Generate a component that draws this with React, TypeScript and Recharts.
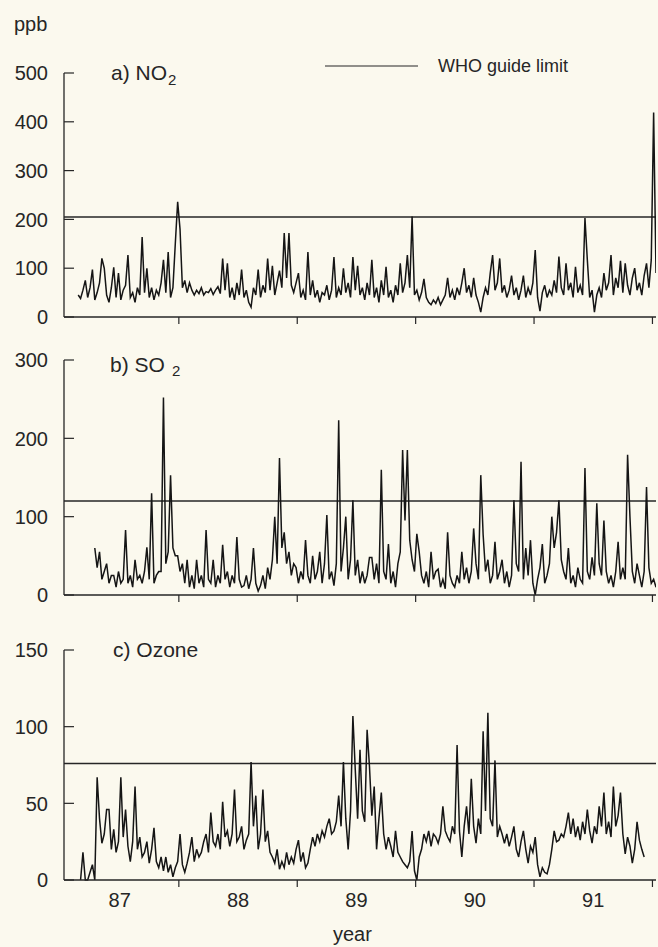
import { LineChart, Line, XAxis, YAxis, ReferenceLine } from 'recharts'

// daily-ish samples, one value every 0.02 year starting mid 1986
const START_YEAR = 86.65
const STEP = 0.02

const NO2_PPB = [
  45, 38, 55, 75, 40, 60, 97, 35, 50, 70,
  120, 100, 45, 30, 60, 102, 40, 90, 35, 55,
  65, 127, 40, 50, 30, 60, 45, 164, 50, 100,
  40, 60, 35, 55, 45, 70, 117, 50, 133, 40,
  60, 150, 236, 180, 60, 75, 50, 70, 55, 45,
  55, 48, 60, 45, 52, 50, 58, 46, 55, 62,
  48, 120, 55, 110, 40, 60, 35, 70, 45, 97,
  40, 55, 30, 20, 60, 45, 97, 40, 65, 50,
  120, 55, 105, 45, 70, 95, 60, 172, 80, 172,
  65, 50, 70, 90, 40, 55, 35, 133, 45, 75,
  40, 55, 30, 50, 45, 65, 35, 55, 123, 40,
  60, 45, 100, 50, 70, 40, 123, 55, 105, 45,
  60, 35, 70, 45, 117, 40, 60, 30, 75, 45,
  103, 40, 55, 30, 65, 45, 110, 50, 70, 127,
  60, 206, 45, 55, 35, 50, 78, 40, 30, 25,
  35, 28, 40, 25, 35, 45, 80, 40, 55, 35,
  60, 45, 70, 100, 50, 65, 40, 80, 45, 30,
  10, 40, 60, 45, 90, 127, 55, 70, 120, 50,
  65, 40, 55, 85, 45, 60, 35, 55, 85, 40,
  60, 45, 70, 137, 40, 12, 50, 65, 40, 55,
  45, 75, 50, 124, 60, 45, 110, 55, 70, 40,
  103, 50, 65, 45, 203, 117, 40, 55, 10, 45,
  60, 40, 90, 55, 70, 127, 45, 80, 60, 115,
  50, 110, 65, 45, 80, 100, 55, 70, 45, 85,
  110, 60, 117, 419, 90,
]

const SO2_PPB = [
  null, null, null, null, null, null, null, 60, 35, 55,
  20, 30, 40, 15, 25, 25, 10, 30, 15, 20,
  83, 15, 25, 10, 45, 20, 25, 15, 30, 61,
  20, 130, 15, 25, 30, 30, 252, 40, 55, 153,
  60, 50, 50, 30, 40, 15, 45, 10, 25, 8,
  45, 15, 25, 10, 83, 20, 15, 45, 10, 25,
  15, 64, 20, 30, 10, 25, 15, 74, 20, 10,
  12, 25, 8, 20, 60, 15, 5, 12, 25, 8,
  35, 20, 45, 100, 40, 175, 60, 80, 40, 55,
  25, 40, 35, 15, 30, 20, 70, 25, 15, 50,
  20, 30, 55, 15, 40, 102, 20, 30, 12, 40,
  223, 30, 60, 100, 20, 45, 121, 25, 45, 15,
  30, 15, 25, 48, 48, 20, 40, 15, 160, 30,
  20, 65, 15, 30, 10, 40, 55, 185, 95, 185,
  70, 45, 30, 78, 55, 25, 15, 30, 10, 55,
  20, 30, 33, 10, 20, 8, 80, 25, 15, 10,
  25, 15, 55, 20, 35, 15, 30, 85, 40, 20,
  153, 77, 30, 45, 15, 25, 68, 20, 30, 45,
  15, 30, 10, 25, 121, 40, 30, 170, 20, 60,
  25, 70, 15, 0, 20, 35, 65, 15, 25, 40,
  100, 60, 80, 121, 45, 30, 20, 60, 15, 25,
  10, 35, 20, 15, 162, 30, 20, 48, 25, 117,
  40, 25, 95, 30, 15, 25, 10, 30, 68, 20,
  35, 20, 179, 100, 30, 15, 40, 25, 10, 30,
  138, 35, 15, 20, 10,
]

const OZONE_PPB = [
  null, 0, 18, 0, 0, 5, 10, 0, 67, 40,
  24, 30, 46, 46, 20, 33, 18, 25, 67, 28,
  46, 22, 12, 25, 61, 20, 28, 15, 18, 25,
  11, 20, 34, 12, 8, 15, 6, 15, 5, 10,
  2, 8, 12, 30, 10, 5, 11, 18, 28, 12,
  20, 15, 18, 25, 30, 18, 44, 25, 22, 30,
  20, 51, 28, 32, 22, 30, 59, 25, 28, 35,
  20, 26, 30, 77, 35, 55, 20, 30, 59, 25,
  32, 18, 15, 11, 20, 7, 12, 8, 18, 10,
  15, 11, 20, 26, 12, 18, 8, 11, 20, 28,
  22, 30, 25, 32, 28, 35, 40, 30, 32, 38,
  55, 35, 77, 40, 20, 45, 107, 72, 40, 85,
  45, 38, 98, 74, 42, 61, 20, 40, 57, 30,
  20, 28, 22, 15, 32, 18, 15, 12, 10, 8,
  12, 32, 6, 0, 15, 20, 30, 25, 32, 22,
  30, 28, 24, 30, 48, 32, 28, 25, 35, 30,
  88, 32, 15, 35, 48, 30, 66, 35, 24, 40,
  30, 97, 45, 109, 40, 35, 78, 28, 35, 30,
  24, 30, 22, 28, 35, 20, 15, 25, 32, 20,
  11, 22, 18, 28, 10, 2, 8, 5, 4, 10,
  20, 32, 25, 26, 30, 28, 35, 44, 30, 40,
  28, 35, 26, 38, 30, 46, 32, 24, 35, 30,
  48, 35, 57, 30, 38, 28, 61, 35, 42, 57,
  30, 17, 28, 22, 11, 20, 38, 26, 20, 15,
  null, null, null, null, null,
]

const YEAR_LABELS = [87, 88, 89, 90, 91]
const YEAR_MARKS = [87.5, 88.5, 89.5, 90.5, 91.5]
const NO2_TICKS = [0, 100, 200, 300, 400, 500]
const SO2_TICKS = [0, 100, 200, 300]
const OZONE_TICKS = [0, 50, 100, 150]

const WHO_NO2 = 205
const WHO_SO2 = 120
const WHO_OZONE = 76

const INK = '#262626'
const PAPER = '#fbf9ee'
const FONT = '"Liberation Sans", Arial, Helvetica, sans-serif'

const toRows = (vals: (number | null)[]) =>
  vals.map((v, i) => ({ year: +(START_YEAR + i * STEP).toFixed(3), v }))

function PpbTick(props: any) {
  const { x, y, payload } = props
  return (
    <g>
      <line x1={x} y1={y} x2={x + 10} y2={y} stroke={INK} strokeWidth={1.2} />
      <text x={x - 16} y={y} dy="0.36em" textAnchor="end" fontSize={20} fill={INK} fontFamily={FONT}>
        {payload.value}
      </text>
    </g>
  )
}

function YearTick(props: any) {
  const { x, y, payload, showLabel } = props
  if (Number.isInteger(payload.value)) {
    if (!showLabel) return <g />
    return (
      <text x={x} y={y + 27} textAnchor="middle" fontSize={20} fill={INK} fontFamily={FONT}>
        {payload.value}
      </text>
    )
  }
  return <line x1={x} y1={y} x2={x} y2={y + 7} stroke={INK} strokeWidth={1.2} />
}

interface PanelProps {
  values: (number | null)[]
  yTicks: number[]
  limit: number
  top: number
  height: number
  margin: { top: number; right: number; bottom: number; left: number }
  showYears?: boolean
}

function Panel({ values, yTicks, limit, top, height, margin, showYears }: PanelProps) {
  const data = toRows(values)
  const xTicks = showYears ? [...YEAR_LABELS, ...YEAR_MARKS].sort((a, b) => a - b) : YEAR_MARKS
  return (
    <div style={{ position: 'absolute', left: 0, top }}>
      <LineChart width={658} height={height} data={data} margin={margin}>
        <XAxis
          dataKey="year"
          type="number"
          domain={[86.53, 91.53]}
          allowDataOverflow
          ticks={xTicks}
          interval={0}
          tickSize={0}
          tickMargin={0}
          tickLine={false}
          tick={(p: any) => <YearTick {...p} showLabel={showYears} />}
          height={showYears ? 40 : 10}
          axisLine={{ stroke: INK, strokeWidth: 1.3 }}
        />
        <YAxis
          type="number"
          domain={[0, yTicks[yTicks.length - 1]]}
          ticks={yTicks}
          interval={0}
          width={64}
          tickSize={0}
          tickMargin={0}
          tickLine={false}
          tick={(p: any) => <PpbTick {...p} />}
          axisLine={{ stroke: INK, strokeWidth: 1.3 }}
        />
        <ReferenceLine y={limit} stroke={INK} strokeWidth={1.4} />
        <Line
          type="linear"
          dataKey="v"
          dot={false}
          stroke="#151515"
          strokeWidth={1.5}
          strokeLinejoin="miter"
          isAnimationActive={false}
        />
      </LineChart>
    </div>
  )
}

export default function App() {
  return (
    <div style={{ position: 'absolute', left: 0, top: 0, width: 658, height: 947, background: PAPER, overflow: 'hidden' }}>
      <Panel values={NO2_PPB} yTicks={NO2_TICKS} limit={WHO_NO2} top={0} height={330}
        margin={{ top: 73, right: 2, bottom: 3, left: 0 }} />
      <Panel values={SO2_PPB} yTicks={SO2_TICKS} limit={WHO_SO2} top={330} height={280}
        margin={{ top: 30, right: 2, bottom: 5, left: 0 }} />
      <Panel values={OZONE_PPB} yTicks={OZONE_TICKS} limit={WHO_OZONE} top={610} height={337}
        margin={{ top: 40, right: 2, bottom: 27, left: 0 }} showYears />
      <svg width={658} height={947} style={{ position: 'absolute', left: 0, top: 0, pointerEvents: 'none' }}
        fontFamily={FONT} fill={INK}>
        <text x={14} y={31} fontSize={20}>ppb</text>
        <text x={111} y={80} fontSize={21}>a) NO</text>
        <text x={168} y={85} fontSize={15}>2</text>
        <line x1={325} y1={66} x2={418} y2={66} stroke={INK} strokeWidth={1.2} />
        <text x={438} y={72} fontSize={18}>WHO guide limit</text>
        <text x={110} y={372} fontSize={21}>b) SO</text>
        <text x={172} y={376} fontSize={15}>2</text>
        <text x={113} y={657} fontSize={21}>c) Ozone</text>
        <text x={333} y={941} fontSize={20}>year</text>
      </svg>
    </div>
  )
}
